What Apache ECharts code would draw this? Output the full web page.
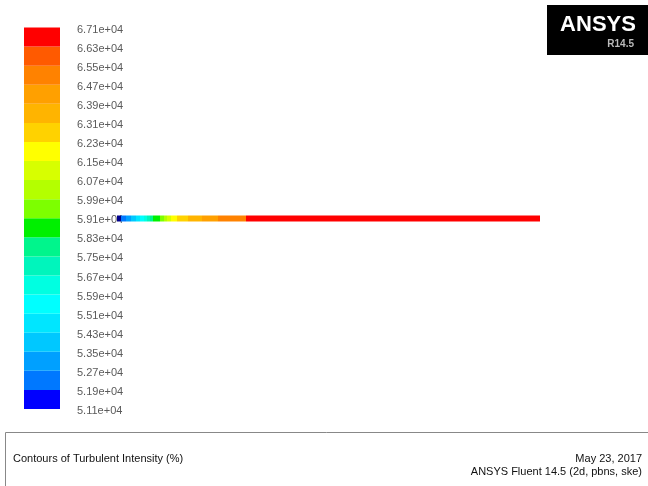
<!DOCTYPE html>
<html>
<head>
<meta charset="utf-8">
<script src="https://cdn.jsdelivr.net/npm/echarts@6/dist/echarts.min.js"></script>
<style>
  html, body { margin: 0; padding: 0; background: #ffffff; }
  #chart { width: 648px; height: 486px; }
</style>
</head>
<body>
<div id="chart"></div>
<script>
// Contour levels (bottom to top) shown on the legend bar
const levelLabels = [
  '5.11e+04', '5.19e+04', '5.27e+04', '5.35e+04', '5.43e+04', '5.51e+04', '5.59e+04',
  '5.67e+04', '5.75e+04', '5.83e+04', '5.91e+04', '5.99e+04', '6.07e+04', '6.15e+04',
  '6.23e+04', '6.31e+04', '6.39e+04', '6.47e+04', '6.55e+04', '6.63e+04', '6.71e+04'
];

// Band colours between consecutive levels (bottom to top)
const bandColors = [
  '#0000ff', '#0078ff', '#00a0ff', '#00c8ff', '#00e6ff', '#00ffff', '#00ffe1',
  '#00f5bc', '#00f58c', '#00f000', '#7dff00', '#b4ff00', '#d7ff00', '#ffff00',
  '#ffd200', '#ffb400', '#ffa000', '#ff8200', '#ff5a00', '#ff0000'
];
const belowRangeColor = '#00008c';

// Contour bands along the pipe: start / end position (mm) and band index (-1 = below range)
const segStart = [0, 4, 9, 14, 19, 23, 27, 30, 33, 36, 43, 47, 50, 54, 60, 71, 85, 101, 129];
const segEnd   = [4, 9, 14, 19, 23, 27, 30, 33, 36, 43, 47, 50, 54, 60, 71, 85, 101, 129, 423];
const segBand  = [-1, 1, 2, 3, 4, 5, 6, 7, 8, 9, 10, 11, 12, 13, 14, 15, 16, 17, 19];
const pipeLength = 423;

const chart = echarts.init(document.getElementById('chart'), null, { renderer: 'canvas' });

const legendData = bandColors.map((c, i) => [i, c]);
const pipeData = segStart.map((s, i) => [s, segEnd[i], segBand[i]]);

const textFont = '"Liberation Sans", Arial, sans-serif';

chart.setOption({
  backgroundColor: '#ffffff',
  animation: false,
  grid: [
    { left: 24, top: 27.5, width: 36, height: 381.5, containLabel: false },
    { left: 117, top: 215.5, width: 423, height: 6, containLabel: false }
  ],
  xAxis: [
    { gridIndex: 0, type: 'value', min: 0, max: 1, show: false },
    { gridIndex: 1, type: 'value', min: 0, max: pipeLength, show: false }
  ],
  yAxis: [
    {
      gridIndex: 0, type: 'value', min: 0, max: 20, interval: 1, position: 'right',
      axisLine: { show: false }, axisTick: { show: false }, splitLine: { show: false },
      axisLabel: {
        margin: 17,
        formatter: v => '{lv|' + levelLabels[Math.round(v)] + '}',
        rich: {
          lv: { fontSize: 11, color: '#5a5a5a', fontFamily: textFont, lineHeight: 13, padding: [4, 0, 0, 0] }
        }
      }
    },
    { gridIndex: 1, type: 'value', min: 0, max: 1, show: false }
  ],
  series: [
    {
      type: 'custom', xAxisIndex: 0, yAxisIndex: 0, data: legendData, z: 3,
      renderItem: (params, api) => {
        const i = api.value(0);
        const p0 = api.coord([0, i + 1]);
        const p1 = api.coord([1, i]);
        return {
          type: 'rect',
          shape: { x: p0[0], y: p0[1], width: p1[0] - p0[0], height: p1[1] - p0[1] },
          style: { fill: bandColors[i], stroke: null }
        };
      }
    },
    {
      type: 'custom', xAxisIndex: 1, yAxisIndex: 1, data: pipeData, z: 5,
      renderItem: (params, api) => {
        const s = api.value(0), e = api.value(1), b = api.value(2);
        const p0 = api.coord([s, 1]);
        const p1 = api.coord([e, 0]);
        return {
          type: 'rect',
          shape: { x: p0[0], y: p0[1], width: p1[0] - p0[0], height: p1[1] - p0[1] },
          style: { fill: b < 0 ? belowRangeColor : bandColors[b], stroke: null }
        };
      }
    }
  ],
  graphic: [
    // ANSYS badge
    { type: 'rect', left: 547, top: 5, shape: { width: 101, height: 50 }, style: { fill: '#000000' } },
    { type: 'text', x: 598, y: 25, style: { text: 'ANSYS', fill: '#ffffff', font: 'bold 22px ' + textFont, textAlign: 'center', textVerticalAlign: 'middle' } },
    { type: 'text', x: 634, y: 44, style: { text: 'R14.5', fill: '#bbbbbb', font: 'bold 10px ' + textFont, textAlign: 'right', textVerticalAlign: 'middle' } },
    // footer frame
    { type: 'line', shape: { x1: 5.5, y1: 432.5, x2: 648, y2: 432.5 }, style: { stroke: '#888888', lineWidth: 1 } },
    { type: 'line', shape: { x1: 5.5, y1: 432.5, x2: 5.5, y2: 486 }, style: { stroke: '#888888', lineWidth: 1 } },
    { type: 'text', x: 13, y: 459, style: { text: 'Contours of Turbulent Intensity (%)', fill: '#111111', font: '11px ' + textFont, textAlign: 'left', textVerticalAlign: 'middle' } },
    { type: 'text', x: 642, y: 459, style: { text: 'May 23, 2017', fill: '#111111', font: '11px ' + textFont, textAlign: 'right', textVerticalAlign: 'middle' } },
    { type: 'text', x: 642, y: 472, style: { text: 'ANSYS Fluent 14.5 (2d, pbns, ske)', fill: '#111111', font: '11px ' + textFont, textAlign: 'right', textVerticalAlign: 'middle' } }
  ]
});
</script>
</body>
</html>
